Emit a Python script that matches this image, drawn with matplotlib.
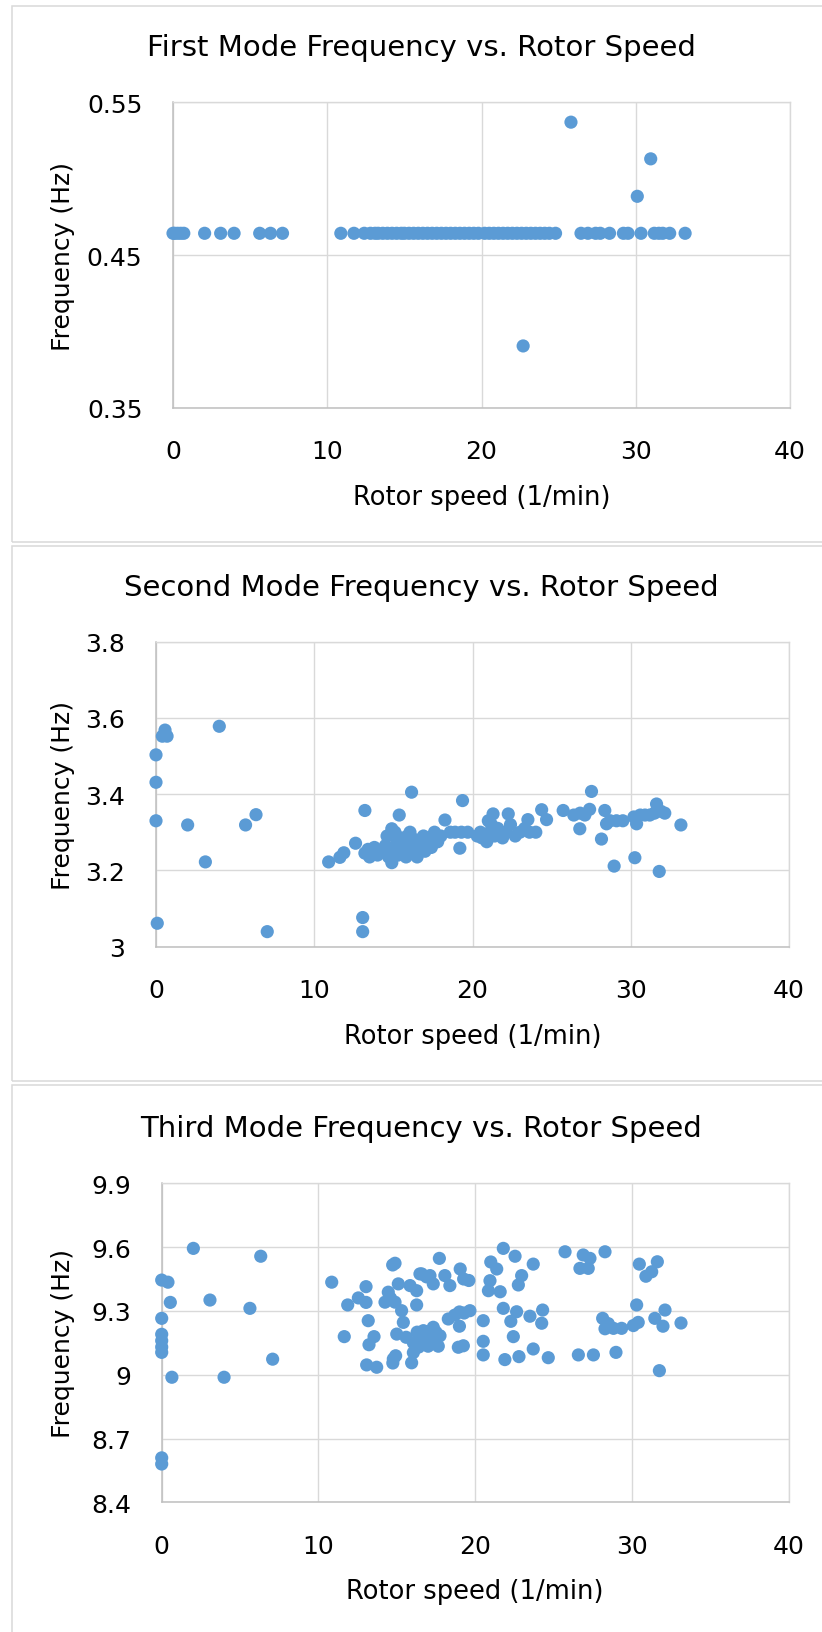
import matplotlib
matplotlib.use("Agg")
import matplotlib.pyplot as plt
from matplotlib.patches import Rectangle

# ---------------- data ----------------
x_ticks = [0, 10, 20, 30, 40]
x_tick_labels = ["0", "10", "20", "30", "40"]

# First mode
speed_1 = [0.0, 0.1, 0.3, 0.5, 0.7, 2.05, 3.09, 3.96, 5.62, 6.32, 7.1,
           10.88, 11.73, 12.4, 12.8, 13.1, 13.3, 13.6, 13.9, 14.2, 14.5, 14.8,
           15.0, 15.3, 15.6, 15.9, 16.2, 16.5, 16.8, 17.1, 17.4, 17.7, 18.0,
           18.3, 18.6, 18.9, 19.2, 19.5, 19.8, 20.2, 20.5, 20.8, 21.1, 21.4,
           21.7, 22.0, 22.3, 22.6, 22.9, 23.2, 23.5, 23.8, 24.1, 24.4, 24.8,
           26.45, 26.9, 27.4, 27.7, 28.3, 29.2, 29.5, 30.34, 31.2, 31.5, 31.75,
           32.2, 33.2,
           25.8, 30.97, 30.1, 22.7]
freq_1 = [0.4643, 0.4643, 0.4643, 0.4643, 0.4643, 0.4643, 0.4643, 0.4643, 0.4643, 0.4643, 0.4643,
          0.4643, 0.4643, 0.4643, 0.4643, 0.4643, 0.4643, 0.4643, 0.4643, 0.4643, 0.4643, 0.4643,
          0.4643, 0.4643, 0.4643, 0.4643, 0.4643, 0.4643, 0.4643, 0.4643, 0.4643, 0.4643, 0.4643,
          0.4643, 0.4643, 0.4643, 0.4643, 0.4643, 0.4643, 0.4643, 0.4643, 0.4643, 0.4643, 0.4643,
          0.4643, 0.4643, 0.4643, 0.4643, 0.4643, 0.4643, 0.4643, 0.4643, 0.4643, 0.4643, 0.4643,
          0.4643, 0.4643, 0.4643, 0.4643, 0.4643, 0.4643, 0.4643, 0.4643, 0.4643, 0.4643, 0.4643,
          0.4643, 0.4643,
          0.537, 0.513, 0.4885, 0.3906]
y_ticks_1 = [0.35, 0.45, 0.55]
y_tick_labels_1 = ["0.35", "0.45", "0.55"]

# Second mode
speed_2 = [0.0, 0.0, 0.0, 0.08, 0.4, 0.57, 0.7, 2.0, 3.12, 4.0, 5.66, 6.32, 7.03,
           10.91, 11.62, 11.87, 12.61, 13.06, 13.06, 13.2, 13.2, 13.4, 13.5, 13.8,
           14.0, 14.3, 14.5, 14.6, 14.7, 14.9, 14.9, 15.0, 15.1, 15.2, 15.3, 15.37,
           15.5, 15.6, 15.8, 15.9, 16.0, 16.05, 16.15, 16.2, 16.4, 16.5, 16.7, 16.9,
           17.0, 17.2, 17.4, 17.6, 17.8, 18.0, 18.26, 18.6, 18.9, 19.2, 19.3, 19.37,
           19.7,
           20.3, 20.5, 20.6, 20.9, 21.0, 21.1, 21.2, 21.3, 21.4, 21.6, 21.9, 22.1,
           22.26, 22.4, 22.7, 23.0, 23.3, 23.5, 23.6, 24.0, 24.37, 24.68, 25.73,
           26.4, 26.78, 26.8, 27.1, 27.4, 27.52, 28.15, 28.36, 28.47, 28.7, 28.95,
           29.1, 29.5, 30.2, 30.26, 30.37, 30.6, 30.9, 31.2, 31.5, 31.63, 31.8,
           31.9, 32.15, 33.17]
freq_2 = [3.503, 3.431, 3.330, 3.061, 3.552, 3.568, 3.552, 3.319, 3.222, 3.578, 3.319, 3.346, 3.039,
          3.222, 3.234, 3.246, 3.271, 3.076, 3.039, 3.357, 3.245, 3.255, 3.235, 3.26,
          3.24, 3.25, 3.265, 3.29, 3.235, 3.22, 3.309, 3.25, 3.30, 3.27, 3.24, 3.345,
          3.285, 3.255, 3.235, 3.29, 3.265, 3.30, 3.405, 3.245, 3.28, 3.235, 3.26, 3.29,
          3.25, 3.28, 3.26, 3.30, 3.275, 3.29, 3.332, 3.30, 3.30, 3.258, 3.30, 3.383,
          3.30,
          3.29, 3.30, 3.285, 3.275, 3.33, 3.30, 3.32, 3.348, 3.29, 3.31, 3.285, 3.30,
          3.348, 3.32, 3.29, 3.30, 3.31, 3.333, 3.30, 3.30, 3.359, 3.333, 3.357,
          3.345, 3.309, 3.35, 3.345, 3.36, 3.407, 3.282, 3.357, 3.322, 3.33, 3.211,
          3.33, 3.33, 3.34, 3.233, 3.322, 3.345, 3.345, 3.345, 3.35, 3.374, 3.197,
          3.355, 3.35, 3.319]
y_ticks_2 = [3.0, 3.2, 3.4, 3.6, 3.8]
y_tick_labels_2 = ["3", "3.2", "3.4", "3.6", "3.8"]

# Third mode
speed_3 = [0.0, 0.0, 0.0, 0.0, 0.0, 0.0, 0.0, 0.0, 0.4, 0.55, 0.65, 2.02, 3.08, 3.98,
           5.63, 6.32, 7.08,
           10.85, 11.65, 11.87, 12.55, 13.04, 13.04, 13.08, 13.18, 13.23, 13.55, 13.72,
           14.25, 14.46, 14.6, 14.74, 14.75, 14.78, 14.89, 14.89, 14.93, 15.0, 15.1,
           15.31, 15.42, 15.6, 15.85, 15.95, 16.06, 16.06, 16.27, 16.27, 16.3, 16.4,
           16.48, 16.59, 16.6, 16.7, 16.8, 16.9, 17.0, 17.12, 17.2, 17.33, 17.33, 17.5,
           17.65, 17.72, 17.76, 18.07, 18.29, 18.39, 18.7, 18.93, 19.0, 19.0, 19.05,
           19.25, 19.27, 19.3, 19.6, 19.67,
           20.52, 20.52, 20.52, 20.85, 20.95, 21.0, 21.38, 21.6, 21.8, 21.8, 21.9,
           22.28, 22.44, 22.55, 22.65, 22.76, 22.8, 22.97, 23.5, 23.71, 23.71, 24.25,
           24.31, 24.67,
           25.74, 26.59, 26.69, 26.9, 27.22, 27.33, 27.55, 28.14, 28.29, 28.29, 28.5,
           28.83, 28.99, 29.35, 30.1, 30.31, 30.41, 30.48, 30.9, 31.27, 31.47, 31.63,
           31.76, 31.99, 32.12, 33.14]
freq_3 = [9.445, 9.265, 9.19, 9.16, 9.13, 9.105, 8.609, 8.58, 9.435, 9.34, 8.988, 9.594, 9.351, 8.988,
          9.312, 9.557, 9.073,
          9.435, 9.179, 9.328, 9.361, 9.414, 9.34, 9.046, 9.254, 9.141, 9.179, 9.035,
          9.341, 9.388, 9.36, 9.516, 9.055, 9.074, 9.524, 9.341, 9.089, 9.191, 9.427,
          9.301, 9.246, 9.176, 9.419, 9.056, 9.15, 9.104, 9.328, 9.395, 9.2, 9.13,
          9.474, 9.474, 9.165, 9.207, 9.19, 9.46, 9.134, 9.466, 9.17, 9.427, 9.223, 9.2,
          9.134, 9.547, 9.183, 9.466, 9.262, 9.419, 9.28, 9.129, 9.295, 9.228, 9.497,
          9.136, 9.45, 9.29, 9.443, 9.301,
          9.254, 9.157, 9.093, 9.395, 9.442, 9.53, 9.497, 9.39, 9.594, 9.312, 9.071,
          9.251, 9.179, 9.557, 9.296, 9.422, 9.085, 9.466, 9.275, 9.52, 9.121, 9.242,
          9.304, 9.08,
          9.578, 9.093, 9.5, 9.563, 9.5, 9.547, 9.093, 9.265, 9.578, 9.216, 9.24,
          9.218, 9.105, 9.218, 9.231, 9.328, 9.246, 9.52, 9.463, 9.484, 9.265, 9.531,
          9.019, 9.228, 9.304, 9.243]
y_ticks_3 = [8.4, 8.7, 9.0, 9.3, 9.6, 9.9]
y_tick_labels_3 = ["8.4", "8.7", "9", "9.3", "9.6", "9.9"]

titles = ["First Mode Frequency vs. Rotor Speed",
          "Second Mode Frequency vs. Rotor Speed",
          "Third Mode Frequency vs. Rotor Speed"]
x_label = "Rotor speed (1/min)"
y_label = "Frequency (Hz)"

# ---------------- layout ----------------
W, H = 822, 1633
fig = plt.figure(figsize=(W / 100, H / 100), dpi=100)
fig.patch.set_facecolor("white")

POINT = "#5B9BD5"
GRID = "#D9D9D9"
AXIS = "#BFBFBF"

panels = [
    dict(ax=(173, 103.3, 790, 409), box=(7, 542.7), title_y=48,
         xs=speed_1, ys=freq_1, yt=y_ticks_1, ytl=y_tick_labels_1, ylim=(0.35, 0.55)),
    dict(ax=(156, 642.7, 789, 947.5), box=(546.6, 1081.5), title_y=588,
         xs=speed_2, ys=freq_2, yt=y_ticks_2, ytl=y_tick_labels_2, ylim=(3.0, 3.8)),
    dict(ax=(161.7, 1184.3, 788.5, 1503.3), box=(1086, 1660), title_y=1129,
         xs=speed_3, ys=freq_3, yt=y_ticks_3, ytl=y_tick_labels_3, ylim=(8.4, 9.9)),
]

for p, title in zip(panels, titles):
    # panel frame
    top, bot = p["box"]
    fig.add_artist(Rectangle((11.5 / W, 1 - bot / H), 1.2, (bot - top) / H,
                             transform=fig.transFigure, fill=False,
                             ec=GRID, lw=1.1, zorder=0))
    l, t, r, b = p["ax"]
    ax = fig.add_axes([l / W, 1 - b / H, (r - l) / W, (b - t) / H])
    ax.set_xlim(0, 40)
    ax.set_ylim(*p["ylim"])
    ax.set_xticks(x_ticks)
    ax.set_xticklabels(x_tick_labels)
    ax.set_yticks(p["yt"])
    ax.set_yticklabels(p["ytl"])
    ax.grid(True, color=GRID, lw=1.0, zorder=0)
    ax.set_axisbelow(True)
    for s in ["top", "right"]:
        ax.spines[s].set_color(GRID)
        ax.spines[s].set_linewidth(1.0)
    for s in ["left", "bottom"]:
        ax.spines[s].set_color(AXIS)
        ax.spines[s].set_linewidth(1.1)
    ax.tick_params(axis="both", length=0, labelsize=18, colors="#000000")
    ax.tick_params(axis="y", pad=22)
    ax.tick_params(axis="x", pad=22.5)
    ax.scatter(p["xs"], p["ys"], s=90, color=POINT, edgecolors="none",
               clip_on=False, zorder=3)
    ax.set_xlabel(x_label, fontsize=18.5, va="center")
    ax.xaxis.set_label_coords(0.5, -89 / (b - t))
    ax.set_ylabel(y_label, fontsize=18, va="center")
    ax.yaxis.set_label_coords((63 - l) / (r - l), 0.5)
    fig.text(421 / W, 1 - p["title_y"] / H, title, fontsize=21,
             ha="center", va="center")

fig.savefig("out.png", dpi=100, facecolor="white")
